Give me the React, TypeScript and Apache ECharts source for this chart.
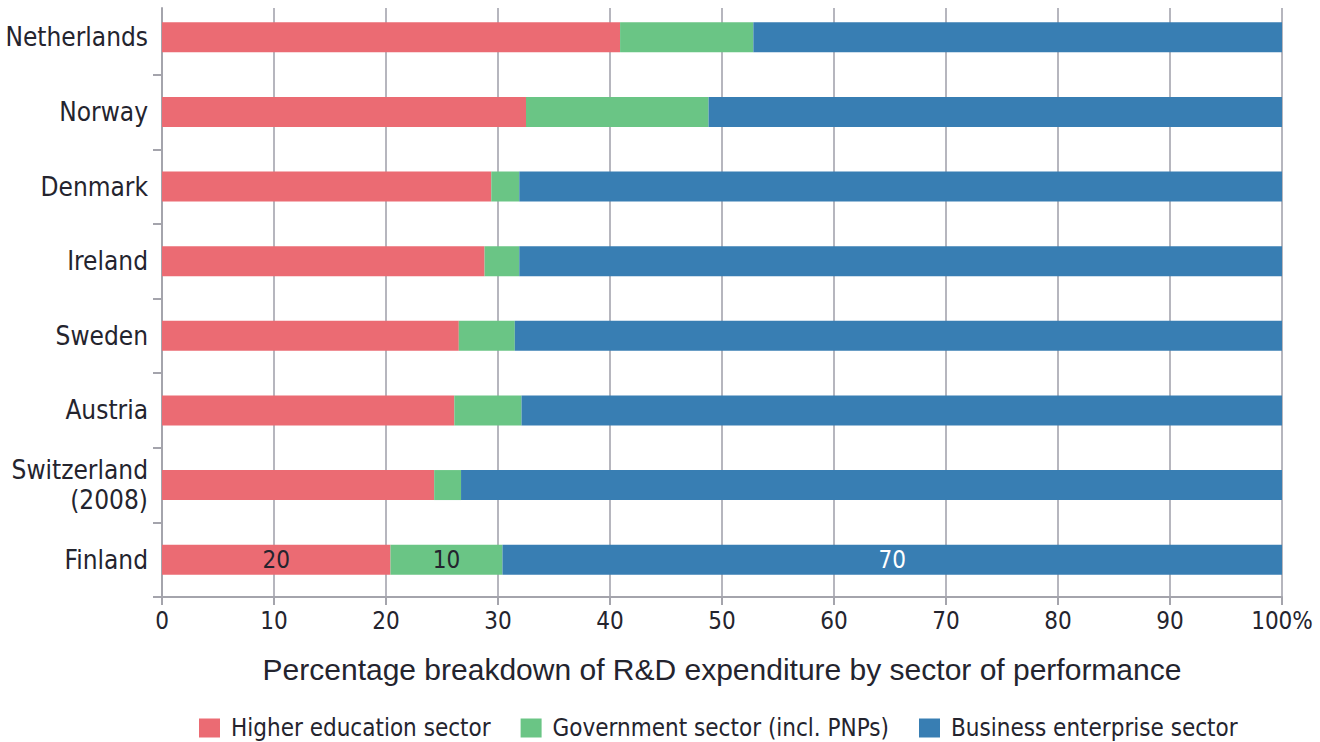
import React, { useEffect, useRef } from "react";
import * as echarts from "echarts";

const countries = [
  "Netherlands",
  "Norway",
  "Denmark",
  "Ireland",
  "Sweden",
  "Austria",
  "Switzerland\n(2008)",
  "Finland",
];
const higherEducation = [40.9, 32.5, 29.4, 28.8, 26.5, 26.1, 24.3, 20.4];
const government = [11.9, 16.3, 2.5, 3.1, 5.0, 6.0, 2.4, 10.0];
const business = [47.2, 51.2, 68.1, 68.1, 68.5, 67.9, 73.3, 69.6];
const labelledCountry = "Finland";
const seriesNames = [
  "Higher education sector",
  "Government sector (incl. PNPs)",
  "Business enterprise sector",
];
const xTicks = [0, 10, 20, 30, 40, 50, 60, 70, 80, 90, 100];
const axisTitle = "Percentage breakdown of R&D expenditure by sector of performance";

const NARROW = "'Liberation Sans Narrow', 'DejaVu Sans Condensed', sans-serif";
const REGULAR = "'Liberation Sans', Arial, sans-serif";
const TEXT = "#24242e";
const AXIS = "#a4a4ac";

export default function App() {
  const ref = useRef<HTMLDivElement>(null);
  useEffect(() => {
    document.body.style.margin = "0";
    if (!ref.current) return;
    const chart = echarts.init(ref.current, undefined, { renderer: "svg" });
    const labelIdx = countries.indexOf(labelledCountry);
    const mk = (vals: number[], labelColor: string) =>
      vals.map((v, i) =>
        i === labelIdx
          ? {
              value: v,
              label: {
                show: true,
                position: "inside",
                color: labelColor,
                fontFamily: NARROW,
                fontSize: 24,
                formatter: (p: any) => String(Math.round(p.value)),
              },
            }
          : v
      );
    const colors = ["#eb6b73", "#6ac585", "#387eb3"];
    const labelColors = [TEXT, TEXT, "#ffffff"];
    const datasets = [higherEducation, government, business];
    chart.setOption({
      animation: false,
      backgroundColor: "#ffffff",
      grid: [
        { left: 162, right: 38, top: 0, height: 597, outerBoundsMode: "none", containLabel: false },
        { left: 162, right: 38, top: 8, height: 589, outerBoundsMode: "none", containLabel: false },
      ],
      legend: {
        data: seriesNames,
        left: 194,
        top: 710,
        icon: "rect",
        itemWidth: 21,
        itemHeight: 19,
        itemGap: 30,
        textStyle: {
          fontFamily: NARROW,
          fontSize: 24,
          lineHeight: 26,
          color: TEXT,
          padding: [0, 0, 0, 6],
        },
      },
      xAxis: [
        {
          gridIndex: 0,
          type: "value",
          min: 0,
          max: 100,
          interval: 10,
          name: axisTitle,
          nameLocation: "middle",
          nameGap: 57,
          nameTextStyle: { fontFamily: REGULAR, fontSize: 30, color: TEXT },
          axisLine: { show: true, lineStyle: { color: AXIS, width: 2 } },
          axisTick: { show: true, length: 8, lineStyle: { color: AXIS, width: 2 } },
          axisLabel: {
            fontFamily: NARROW,
            fontSize: 24,
            color: TEXT,
            margin: 12,
            customValues: xTicks,
            formatter: (v: number) => (v === 100 ? "100%" : String(v)),
          },
          splitLine: { show: false },
        },
        {
          gridIndex: 1,
          type: "value",
          min: 0,
          max: 100,
          interval: 10,
          axisLine: { show: false },
          axisTick: { show: false },
          axisLabel: { show: false },
          splitLine: { show: true, lineStyle: { color: "#b6b6be", width: 2 } },
        },
      ],
      yAxis: [
        {
          gridIndex: 0,
          type: "category",
          data: countries,
          inverse: true,
          axisLine: { show: false },
          axisTick: {
            show: true,
            length: 9,
            interval: (i: number) => i !== 0,
            lineStyle: { color: AXIS, width: 2 },
          },
          axisLabel: {
            fontFamily: NARROW,
            fontSize: 26,
            color: TEXT,
            margin: 14,
            lineHeight: 30,
          },
        },
        {
          gridIndex: 1,
          type: "value",
          min: 0,
          max: 1,
          axisLine: { show: true, lineStyle: { color: AXIS, width: 2 } },
          axisTick: { show: false },
          axisLabel: { show: false },
          splitLine: { show: false },
        },
      ],
      series: [
        ...datasets.map((vals, k) => ({
          name: seriesNames[k],
          type: "bar",
          stack: "total",
          xAxisIndex: 0,
          yAxisIndex: 0,
          barWidth: 30,
          itemStyle: { color: colors[k] },
          data: mk(vals, labelColors[k]),
        })),
        {
          name: "_grid",
          type: "line",
          xAxisIndex: 1,
          yAxisIndex: 1,
          data: [],
          silent: true,
        },
      ],
    });
    return () => chart.dispose();
  }, []);
  return <div ref={ref} style={{ width: 1320, height: 742 }} />;
}
